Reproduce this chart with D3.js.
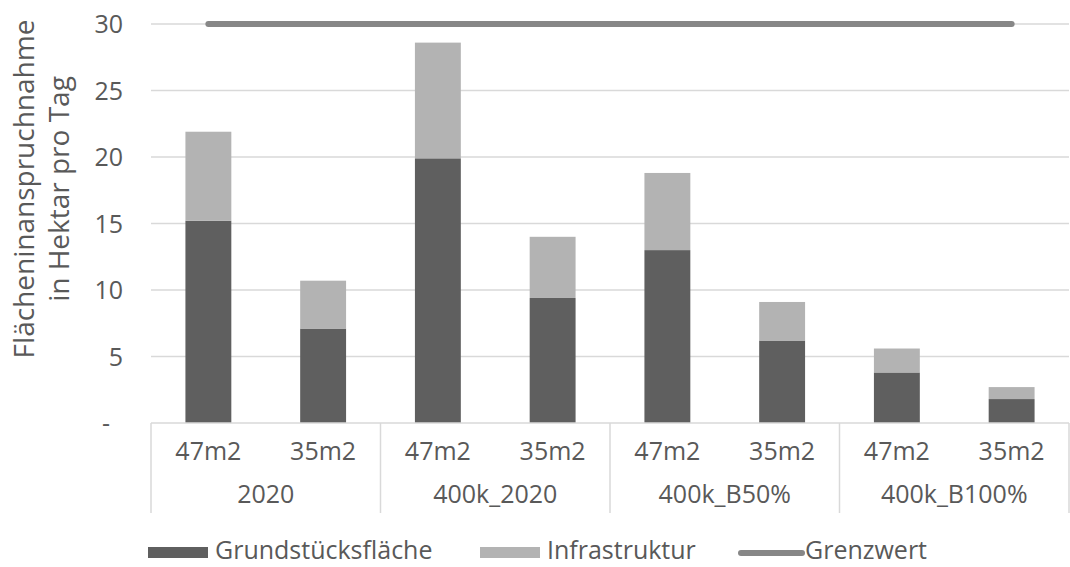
<!DOCTYPE html>
<html>
<head>
<meta charset="utf-8">
<script src="https://cdn.jsdelivr.net/npm/d3@7"></script>
<style>
  html, body { margin: 0; padding: 0; background: #fff; }
  svg { display: block; font-family: "Open Sans", sans-serif; }
</style>
</head>
<body>
<svg id="chart" width="1070" height="567"></svg>
<script>
// ---- data ----
const groups = ["2020", "400k_2020", "400k_B50%", "400k_B100%"];
const subCategories = ["47m2", "35m2"];
const grundstuecksflaeche = [15.2, 7.1, 19.9, 9.4, 13.0, 6.2, 3.8, 1.8];
const infrastruktur = [6.7, 3.6, 8.7, 4.6, 5.8, 2.9, 1.8, 0.9];
const grenzwert = [30, 30, 30, 30, 30, 30, 30, 30];
const yTicks = [0, 5, 10, 15, 20, 25, 30];
const seriesNames = ["Grundstücksfläche", "Infrastruktur", "Grenzwert"];
const yTitle = ["Flächeninanspruchnahme", "in Hektar pro Tag"];

// ---- layout ----
const svg = d3.select("#chart");
const plotLeft = 151, plotRight = 1069, plotTop = 24, plotBottom = 423;
const textColor = "#595959", gridColor = "#d9d9d9";
const colDark = "#5f5f5f", colLight = "#b3b3b3", colLine = "#878787";

const cats = [];
groups.forEach((g, gi) => subCategories.forEach((s, si) => cats.push({ key: gi + "_" + si, group: g, sub: s })));
const rows = cats.map((c, i) => ({ key: c.key, grund: grundstuecksflaeche[i], infra: infrastruktur[i], grenz: grenzwert[i] }));

const x = d3.scaleBand().domain(cats.map(c => c.key)).range([plotLeft, plotRight]).paddingInner(0.6).paddingOuter(0.3);
const y = d3.scaleLinear().domain([0, 30]).range([plotBottom, plotTop]);

// gridlines
svg.append("g").selectAll("line").data(yTicks.filter(t => t > 0)).join("line")
  .attr("x1", plotLeft).attr("x2", plotRight)
  .attr("y1", d => y(d)).attr("y2", d => y(d))
  .attr("stroke", gridColor).attr("stroke-width", 1.3);

// y axis labels
const yAxis = d3.axisLeft(y).tickValues(yTicks).tickSize(0).tickPadding(0)
  .tickFormat(d => d === 0 ? "-" : d3.format("d")(d));
const ya = svg.append("g").attr("transform", "translate(123,0)").call(yAxis);
ya.select(".domain").remove();
ya.selectAll("text").attr("fill", textColor).style("font-size", "25px")
  .style("font-family", '"Open Sans", sans-serif').attr("dy", "0.34em")
  .attr("dx", d => d === 0 ? -13 : 0);

// y title
const yt = svg.append("text").attr("transform", "translate(0,189) rotate(-90)")
  .attr("text-anchor", "middle").attr("fill", textColor).style("font-size", "28px");
yt.selectAll("tspan").data(yTitle).join("tspan")
  .attr("x", 0).attr("y", (d, i) => i === 0 ? 34 : 69).text(d => d);

// stacked bars
const stack = d3.stack().keys(["grund", "infra"]);
const stacked = stack(rows);
const colors = [colDark, colLight];
svg.append("g").selectAll("g").data(stacked).join("g")
  .attr("fill", (d, i) => colors[i])
  .selectAll("rect").data(d => d).join("rect")
  .attr("x", d => x(d.data.key))
  .attr("width", x.bandwidth())
  .attr("y", d => y(d[1]))
  .attr("height", d => y(d[0]) - y(d[1]));

// category axis line
svg.append("line").attr("x1", plotLeft).attr("x2", plotRight).attr("y1", plotBottom).attr("y2", plotBottom)
  .attr("stroke", gridColor).attr("stroke-width", 1.5);

// group separators
const step = x.step();
const groupEdges = d3.range(groups.length + 1).map(i => plotLeft + i * step * subCategories.length);
svg.append("g").selectAll("line").data(groupEdges).join("line")
  .attr("x1", d => d).attr("x2", d => d).attr("y1", plotBottom).attr("y2", 513)
  .attr("stroke", gridColor).attr("stroke-width", 1.5);

// sub category labels
svg.append("g").selectAll("text").data(cats).join("text")
  .attr("x", d => x(d.key) + x.bandwidth() / 2).attr("y", 460)
  .attr("text-anchor", "middle").attr("fill", textColor).style("font-size", "25px")
  .text(d => d.sub);

// group labels
svg.append("g").selectAll("text").data(groups).join("text")
  .attr("x", (d, i) => (groupEdges[i] + groupEdges[i + 1]) / 2).attr("y", 503)
  .attr("text-anchor", "middle").attr("fill", textColor).style("font-size", "25px")
  .text(d => d);

// Grenzwert line
const line = d3.line().x(d => x(d.key) + x.bandwidth() / 2).y(d => y(d.grenz));
svg.append("path").datum(rows).attr("d", line)
  .attr("fill", "none").attr("stroke", colLine).attr("stroke-width", 6)
  .attr("stroke-linecap", "round");

// legend
const lg = svg.append("g");
const legendItems = [
  { name: seriesNames[0], type: "rect", color: colDark, x: 148 },
  { name: seriesNames[1], type: "rect", color: colLight, x: 480 },
  { name: seriesNames[2], type: "line", color: colLine, x: 738 }
];
legendItems.forEach(it => {
  if (it.type === "rect") {
    lg.append("rect").attr("x", it.x).attr("y", 547).attr("width", 60).attr("height", 11).attr("fill", it.color);
  } else {
    lg.append("line").attr("x1", it.x + 3).attr("x2", it.x + 64).attr("y1", 553).attr("y2", 553)
      .attr("stroke", it.color).attr("stroke-width", 6).attr("stroke-linecap", "round");
  }
  lg.append("text").attr("x", it.x + 67).attr("y", 559)
    .attr("fill", textColor).style("font-size", "25px").text(it.name);
});
</script>
</body>
</html>
